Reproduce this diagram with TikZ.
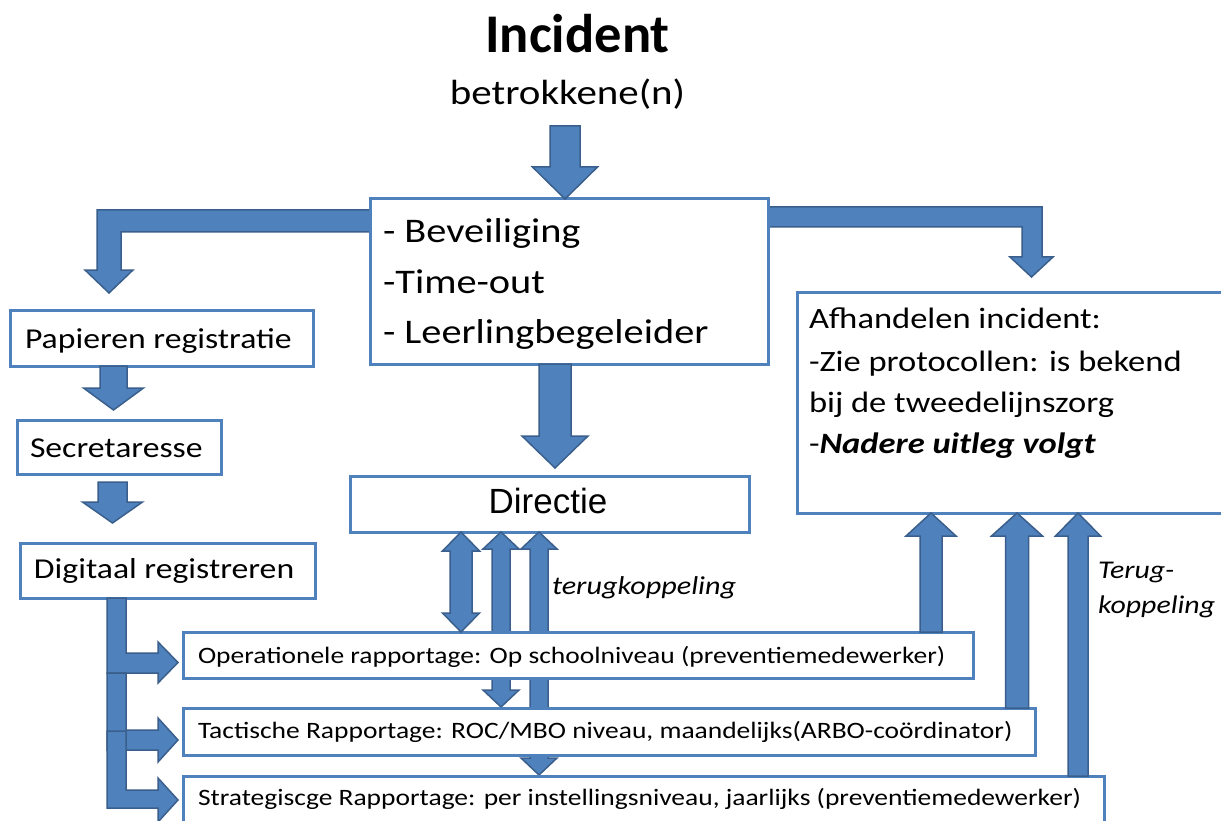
\documentclass[tikz,border=0pt]{standalone}
\usepackage{fontspec}
\setmainfont{Carlito}
\newfontfamily\bodyf{Carlito}[FakeStretch=1.17]
\newfontfamily\arialf{Liberation Sans}
\usetikzlibrary{calc}
\definecolor{boxblue}{RGB}{79,129,189}
\definecolor{arrowfill}{RGB}{79,129,189}
\definecolor{arrowline}{RGB}{58,95,140}
\newcommand\fs[1]{\fontsize{#1}{#1}\selectfont}
% block arrow: tail, tip, shaft half width, head half width, head length
\newcommand\blockarrow[5]{%
  \coordinate (ba-h) at ($#2!#5!#1$);
  \filldraw[barrowstyle] ($#1!#3!90:#2$) -- ($(ba-h)!#3!90:#2$) -- ($(ba-h)!#4!90:#2$) -- #2
    -- ($(ba-h)!#4!-90:#2$) -- ($(ba-h)!#3!-90:#2$) -- ($#1!#3!-90:#2$) -- cycle;}
% double block arrow: end a, end b, shaft half width, head half width, head length
\newcommand\dblarrow[5]{%
  \coordinate (da-a) at ($#1!#5!#2$);
  \coordinate (da-b) at ($#2!#5!#1$);
  \filldraw[barrowstyle] #1 -- ($(da-a)!#4!90:#2$) -- ($(da-a)!#3!90:#2$) -- ($(da-b)!#3!-90:#1$)
    -- ($(da-b)!#4!-90:#1$) -- #2 -- ($(da-b)!#4!90:#1$) -- ($(da-b)!#3!90:#1$)
    -- ($(da-a)!#3!-90:#2$) -- ($(da-a)!#4!-90:#2$) -- cycle;}
\tikzset{
  box/.style={draw=boxblue, line width=3pt, fill=white, inner sep=0pt, outer sep=0pt, anchor=north west},
  barrowstyle/.style={fill=arrowfill, draw=arrowline, line width=1.5pt, line join=miter},
  txt/.style={inner sep=0pt, outer sep=0pt, anchor=base west, font=\bodyf},
}
\begin{document}
\begin{tikzpicture}[x=1pt,y=-1pt]
\useasboundingbox (0,0) rectangle (1221,821);
\fill[white] (0,0) rectangle (1221,821);

% title
\node[inner sep=0pt, anchor=base] (title) at (577.5,53) {\fs{54.5}\bfseries Incident};
\node[txt, anchor=base] (betr) at (567.5,105) {\fs{35}betrokkene(n)};

% bent arrows from the first box
\filldraw[barrowstyle] (372,210) -- (97,210) -- (97,270) -- (85,270) -- (109,293) -- (133,270)
  -- (121,270) -- (121,232) -- (372,232) -- cycle;
\filldraw[barrowstyle] (766,207) -- (1042,207) -- (1042,257) -- (1053,257) -- (1031.5,277)
  -- (1010,257) -- (1022,257) -- (1022,227) -- (766,227) -- cycle;

% first box
\node[box, minimum width=398pt, minimum height=165pt] (b1) at (370,199) {};
\coordinate (topin) at (565,126);
\blockarrow{(topin)}{(565,0 |- b1.north)}{15pt}{32.5pt}{32pt}
\node[txt] (t1) at (383,243) {\fs{34.5}- Beveiliging};
\node[txt] (t2) at (383,293) {\fs{34.5}-Time-out};
\node[txt] (t3) at (383,343) {\fs{34.5}- Leerlingbegeleider};

% directie
\node[box, minimum width=399pt, minimum height=56pt] (dir) at (350,476) {};
\node[inner sep=0pt, anchor=base] (dirt) at (548,513) {\arialf\fs{35}Directie};
\coordinate (dirtip) at (555,468);
\blockarrow{(555,0 |- b1.south)}{(dirtip)}{16pt}{33pt}{32pt}

% rapportage boxes and double arrows
\node[box, minimum width=790pt, minimum height=46pt] (op) at (183,632) {};
\dblarrow{(539,0 |- dir.south)}{(539,775)}{9pt}{18pt}{17pt}
\dblarrow{(501,0 |- dir.south)}{(501,707)}{9pt}{18pt}{17pt}
\node[box, minimum width=790pt, minimum height=46pt] (op) at (183,632) {};
\dblarrow{(461,0 |- dir.south)}{(461,0 |- op.north)}{11pt}{18.5pt}{19pt}
\node[box, minimum width=852pt, minimum height=47pt] (tac) at (183,708) {};
\node[box, minimum width=921pt, minimum height=60pt] (str) at (183,776) {};
\node[txt] (opt) at (198,663) {\fs{23.5}Operationele rapportage: Op schoolniveau (preventiemedewerker)};
\node[txt] (tact) at (198,738) {\fs{23.5}Tactische Rapportage: ROC/MBO niveau, maandelijks(ARBO-coördinator)};
\node[txt] (strt) at (198,805) {\fs{23.5}Strategiscge Rapportage: per instellingsniveau, jaarlijks (preventiemedewerker)};
\node[txt] (terug1) at (552,594) {\fs{25.8}\itshape terugkoppeling};

% afhandelen box
\node[box, minimum width=440pt, minimum height=221pt] (afh) at (797,292) {};
\node[txt] (a1) at (809,328) {\fs{29.5}Afhandelen incident:};
\node[txt] (a2) at (809,371) {\fs{29.5}-Zie protocollen: is bekend};
\node[txt] (a3) at (809,412) {\fs{29.5}bij de tweedelijnszorg};
\node[txt] (a4) at (809,453) {\fs{29.5}-\textbf{\textit{Nadere uitleg volgt}}};
\blockarrow{(931,0 |- op.north)}{(931,0 |- afh.south)}{11pt}{25pt}{23pt}
\blockarrow{(1017,0 |- tac.north)}{(1017,0 |- afh.south)}{11.5pt}{25.5pt}{23pt}
\blockarrow{(1078,0 |- str.north)}{(1078,0 |- afh.south)}{10pt}{22.5pt}{23pt}
\node[txt] (terug2) at (1098,578) {\fs{25.5}\itshape Terug-};
\node[txt] (terug3) at (1098,613) {\fs{25.5}\itshape koppeling};

% left column
\node[box, minimum width=303pt, minimum height=56pt] (pap) at (10,310) {};
\node[txt] (papt) at (25,348) {\fs{28.8}Papieren registratie};
\node[box, minimum width=204pt, minimum height=54pt] (sec) at (17,420) {};
\node[txt] (sect) at (30,457) {\fs{28.8}Secretaresse};
\node[box, minimum width=295pt, minimum height=55pt] (dig) at (20,543) {};
\node[txt] (digt) at (34,578) {\fs{28.8}Digitaal registreren};
\blockarrow{(113.5,0 |- pap.south)}{(113.5,410)}{13.5pt}{30pt}{22pt}
\coordinate (secout) at (112.5,482);
\blockarrow{(secout)}{(112.5,523)}{14.5pt}{30pt}{21pt}

% tree of arrows to the rapportages
\filldraw[barrowstyle] (107,598) -- (107,673) -- (158,673) -- (158,683) -- (178,662.5) -- (158,642)
  -- (158,653) -- (126,653) -- (126,598) -- cycle;
\filldraw[barrowstyle] (107,673) -- (107,750) -- (158,750) -- (158,762) -- (178,740) -- (158,718)
  -- (158,730) -- (126,730) -- (126,673) -- cycle;
\filldraw[barrowstyle] (107,731) -- (107,808) -- (158,808) -- (158,822) -- (178,800) -- (158,778)
  -- (158,790) -- (126,790) -- (126,731) -- cycle;
\end{tikzpicture}
\end{document}
